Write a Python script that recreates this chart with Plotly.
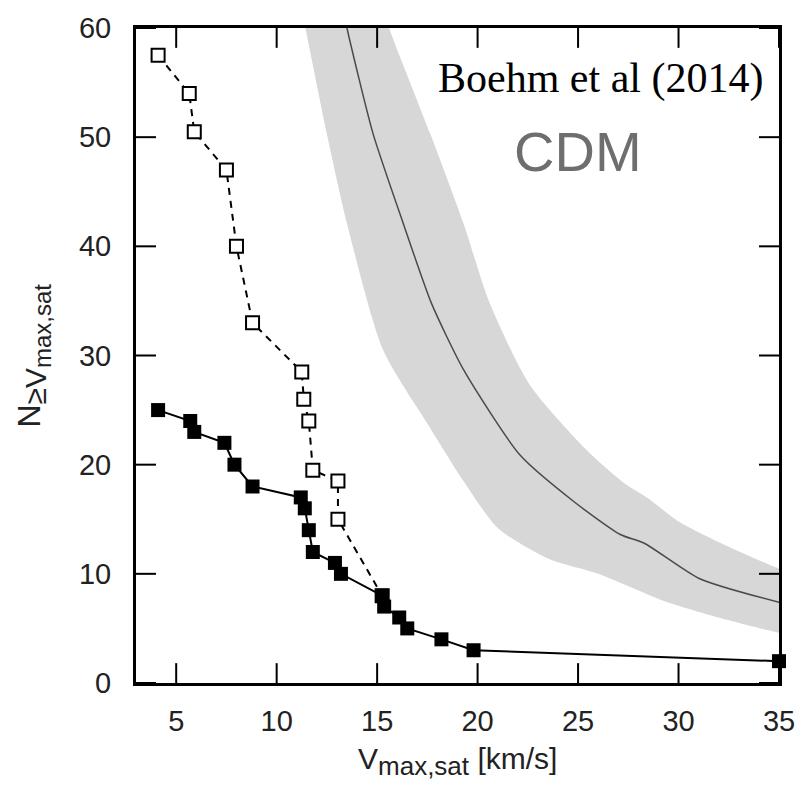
import plotly.graph_objects as go

# Observed satellites (filled squares, solid line)
obs_v = [4.1, 5.7, 5.9, 7.4, 7.9, 8.8, 11.2, 11.4, 11.6, 11.8, 12.9, 13.2, 15.25, 15.35, 16.1, 16.5, 18.2, 19.8, 35.0]
obs_n = [25, 24, 23, 22, 20, 18, 17, 16, 14, 12, 11, 10, 8, 7, 6, 5, 4, 3, 2]

# Including candidates (open squares, dashed line)
all_v = [4.1, 5.65, 5.9, 7.5, 8.0, 8.8, 11.25, 11.35, 11.6, 11.8, 13.05, 13.05, 15.25]
all_n = [57.5, 54, 50.5, 47, 40, 33, 28.5, 26, 24, 19.5, 18.5, 15, 8]

# CDM prediction: median and scatter band
cdm_mid_v = [13.3, 13.5, 14.8, 16.3, 17.7, 19.3, 22.1, 24.8, 27.1, 28.3, 31.0, 35.0, 36.0]
cdm_mid_n = [62, 60, 50.3, 42.1, 34.8, 28.7, 20.9, 16.6, 13.6, 12.8, 9.6, 7.4, 7.0]
cdm_lo_v = [11.2, 11.43, 12.5, 13.5, 15.3, 17.66, 19.3, 21.0, 23.5, 26.0, 29.3, 32.6, 35.0, 36.0]
cdm_lo_n = [62, 60, 50.3, 42.1, 30.5, 23.3, 18.5, 14.2, 11.4, 10.0, 7.5, 5.7, 4.6, 4.3]
cdm_hi_v = [15.3, 15.6, 17.65, 19.3, 20.6, 22.6, 25.5, 27.3, 28.5, 30.0, 32.6, 35.0, 36.0]
cdm_hi_n = [62, 60, 50.3, 42.1, 34.8, 27.3, 21.2, 18.3, 16.9, 14.8, 12.4, 10.5, 10.0]

x_ticks = [5, 10, 15, 20, 25, 30, 35]
y_ticks = [0, 10, 20, 30, 40, 50, 60]

W, H = 808, 795
M = dict(l=136, r=29, t=23, b=112)
plot_w = W - M["l"] - M["r"]
plot_h = H - M["t"] - M["b"]
TICK_LEN = 20

fig = go.Figure()

fig.add_trace(go.Scatter(
    x=cdm_hi_v + cdm_lo_v[::-1], y=cdm_hi_n + cdm_lo_n[::-1],
    fill="toself", fillcolor="#d7d7d7", mode="lines",
    line=dict(width=0, shape="spline", smoothing=0.7),
    hoverinfo="skip", showlegend=False))
fig.add_trace(go.Scatter(
    x=cdm_mid_v, y=cdm_mid_n, mode="lines",
    line=dict(color="#4a4a4a", width=1.5, shape="spline", smoothing=0.6), showlegend=False))
fig.add_trace(go.Scatter(
    x=all_v, y=all_n, mode="lines+markers",
    line=dict(color="black", width=2, dash="7px,6px"),
    marker=dict(symbol="square", size=13, color="white", line=dict(color="black", width=2)),
    showlegend=False))
fig.add_trace(go.Scatter(
    x=obs_v, y=obs_n, mode="lines+markers",
    line=dict(color="black", width=2),
    marker=dict(symbol="square", size=14, color="black"),
    showlegend=False, cliponaxis=False))

# Inside tick marks on all four sides, built from the tick arrays
shapes = []
ty = TICK_LEN / plot_h
tx = TICK_LEN / plot_w
for v in x_ticks:
    for y0, y1 in [(0, ty), (1, 1 - ty)]:
        shapes.append(dict(type="line", xref="x", yref="y domain", x0=v, x1=v, y0=y0, y1=y1,
                           line=dict(color="black", width=2), layer="above"))
for v in y_ticks:
    for x0, x1 in [(0, tx), (1, 1 - tx)]:
        shapes.append(dict(type="line", xref="x domain", yref="y", x0=x0, x1=x1, y0=v, y1=v,
                           line=dict(color="black", width=2), layer="above"))

tf = dict(family="Liberation Sans, Arial, sans-serif", size=29, color="#222")
axis_common = dict(showgrid=False, zeroline=False, showline=True, linecolor="black",
                   linewidth=3, mirror=True, ticks="", tickfont=tf)

fig.update_layout(
    width=W, height=H, margin=M,
    paper_bgcolor="white", plot_bgcolor="white",
    xaxis=dict(range=[3, 35], tickmode="array", tickvals=x_ticks,
               ticktext=[str(v) for v in x_ticks], ticklabelstandoff=10, **axis_common),
    yaxis=dict(range=[0, 60], tickmode="array", tickvals=y_ticks,
               ticktext=[str(v) for v in y_ticks], ticklabelstandoff=16, **axis_common),
    shapes=shapes,
    annotations=[
        dict(text="Boehm et al (2014)", xref="paper", yref="paper", x=0.978, y=0.923,
             xanchor="right", yanchor="middle", showarrow=False,
             font=dict(family="Liberation Serif, Times New Roman, serif", size=42, color="black")),
        dict(text="CDM", xref="paper", yref="paper", x=0.688, y=0.811,
             xanchor="center", yanchor="middle", showarrow=False,
             font=dict(family="Liberation Sans, Arial, sans-serif", size=56, color="#6e6e6e")),
        dict(text="V<sub><span style='font-size:26px'>max,sat</span></sub> [km/s]",
             xref="paper", yref="paper", x=0.5, y=-0.12, xanchor="center", yanchor="middle",
             showarrow=False,
             font=dict(family="Liberation Sans, Arial, sans-serif", size=30, color="#222")),
        dict(text="N<sub><span style='font-size:30px'>≥V</span><sub><span style='font-size:24px'>max,sat</span></sub></sub>",
             xref="paper", yref="paper", x=-0.16, y=0.5, xanchor="center", yanchor="middle",
             textangle=-90, showarrow=False,
             font=dict(family="Liberation Sans, Arial, sans-serif", size=32, color="#222")),
    ],
)

fig.write_html("out.html")
